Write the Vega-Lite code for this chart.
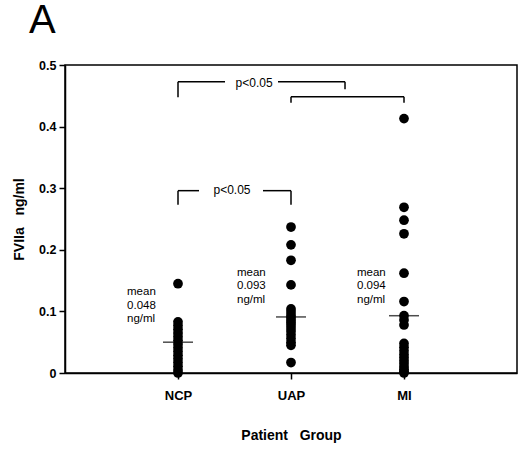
{
  "$schema": "https://vega.github.io/schema/vega-lite/v6.json",
  "autosize": "none",
  "padding": {"left": 65, "top": 65, "right": 3, "bottom": 78},
  "width": 452,
  "height": 308,
  "title": {
    "text": "A",
    "anchor": "start",
    "frame": "group",
    "baseline": "top",
    "fontSize": 40,
    "fontWeight": "normal",
    "font": "Liberation Sans",
    "color": "black",
    "dx": -36,
    "dy": -18,
    "offset": 0
  },
  "config": {
    "view": {"stroke": "black", "strokeWidth": 1.5},
    "axis": {
      "grid": false,
      "domainColor": "black",
      "domainWidth": 1.5,
      "tickColor": "black",
      "tickWidth": 1.5,
      "tickSize": 6,
      "labelColor": "black",
      "labelFont": "Liberation Sans",
      "labelFontWeight": "bold",
      "titleFont": "Liberation Sans",
      "titleFontWeight": "bold",
      "titleColor": "black"
    }
  },
  "datasets": {
    "points": [
      {"group": 1, "value": 0.145}, {"group": 1, "value": 0.083}, {"group": 1, "value": 0.077},
      {"group": 1, "value": 0.071}, {"group": 1, "value": 0.065}, {"group": 1, "value": 0.059},
      {"group": 1, "value": 0.053}, {"group": 1, "value": 0.047}, {"group": 1, "value": 0.041},
      {"group": 1, "value": 0.035}, {"group": 1, "value": 0.029}, {"group": 1, "value": 0.023},
      {"group": 1, "value": 0.017}, {"group": 1, "value": 0.011}, {"group": 1, "value": 0.005},
      {"group": 1, "value": 0.0},
      {"group": 2, "value": 0.237}, {"group": 2, "value": 0.208}, {"group": 2, "value": 0.183},
      {"group": 2, "value": 0.143}, {"group": 2, "value": 0.104}, {"group": 2, "value": 0.099},
      {"group": 2, "value": 0.094}, {"group": 2, "value": 0.09}, {"group": 2, "value": 0.086},
      {"group": 2, "value": 0.082}, {"group": 2, "value": 0.078}, {"group": 2, "value": 0.073},
      {"group": 2, "value": 0.068}, {"group": 2, "value": 0.062}, {"group": 2, "value": 0.056},
      {"group": 2, "value": 0.05}, {"group": 2, "value": 0.045}, {"group": 2, "value": 0.017},
      {"group": 3, "value": 0.413}, {"group": 3, "value": 0.269}, {"group": 3, "value": 0.248},
      {"group": 3, "value": 0.226}, {"group": 3, "value": 0.162}, {"group": 3, "value": 0.116},
      {"group": 3, "value": 0.093}, {"group": 3, "value": 0.086}, {"group": 3, "value": 0.078},
      {"group": 3, "value": 0.048}, {"group": 3, "value": 0.042}, {"group": 3, "value": 0.036},
      {"group": 3, "value": 0.03}, {"group": 3, "value": 0.025}, {"group": 3, "value": 0.02},
      {"group": 3, "value": 0.015}, {"group": 3, "value": 0.01}, {"group": 3, "value": 0.006},
      {"group": 3, "value": 0.003}, {"group": 3, "value": 0.0}
    ],
    "means": [
      {"group": 1, "mean": 0.05, "label": "mean\n0.048\nng/ml", "labelX": 0.549, "labelY": 0.1266},
      {"group": 2, "mean": 0.091, "label": "mean\n0.093\nng/ml", "labelX": 1.522, "labelY": 0.1575},
      {"group": 3, "mean": 0.093, "label": "mean\n0.094\nng/ml", "labelX": 2.584, "labelY": 0.1575}
    ],
    "brackets": [
      {"x": 1, "x2": 1, "y": 0.4476, "y2": 0.473},
      {"x": 1, "x2": 1.416, "y": 0.473, "y2": 0.473},
      {"x": 1.885, "x2": 2.478, "y": 0.473, "y2": 0.473},
      {"x": 2.478, "x2": 2.478, "y": 0.4606, "y2": 0.473},
      {"x": 2, "x2": 3, "y": 0.4485, "y2": 0.4485},
      {"x": 2, "x2": 2, "y": 0.4388, "y2": 0.4485},
      {"x": 3, "x2": 3, "y": 0.4388, "y2": 0.4485},
      {"x": 1, "x2": 1.186, "y": 0.296, "y2": 0.296},
      {"x": 1.752, "x2": 2, "y": 0.296, "y2": 0.296},
      {"x": 1, "x2": 1, "y": 0.273, "y2": 0.296},
      {"x": 2, "x2": 2, "y": 0.273, "y2": 0.296}
    ],
    "pvalues": [
      {"x": 1.673, "y": 0.471, "text": "p<0.05"},
      {"x": 1.478, "y": 0.297, "text": "p<0.05"}
    ]
  },
  "layer": [
    {
      "data": {"name": "points"},
      "mark": {"type": "circle", "size": 95, "color": "black", "opacity": 1},
      "encoding": {
        "x": {
          "field": "group",
          "type": "quantitative",
          "scale": {"domain": [0, 4]},
          "axis": {
            "values": [1, 2, 3],
            "labelExpr": "datum.value == 1 ? 'NCP' : datum.value == 2 ? 'UAP' : 'MI'",
            "labelFontSize": 13,
            "labelPadding": 10,
            "title": "Patient\u00a0\u00a0\u00a0Group",
            "titleFontSize": 14,
            "titlePadding": 26
          }
        },
        "y": {
          "field": "value",
          "type": "quantitative",
          "scale": {"domain": [0, 0.5]},
          "axis": {
            "values": [0, 0.1, 0.2, 0.3, 0.4, 0.5],
            "labelExpr": "datum.value == 0 ? '0' : format(datum.value, '.1f')",
            "labelFontSize": 12.5,
            "labelPadding": 3,
            "title": "FVIIa\u00a0\u00a0\u00a0ng/ml",
            "titleFontSize": 14,
            "titlePadding": 12
          }
        }
      }
    },
    {
      "data": {"name": "means"},
      "mark": {"type": "tick", "orient": "horizontal", "size": 30, "thickness": 1.5, "color": "black"},
      "encoding": {
        "x": {"field": "group", "type": "quantitative"},
        "y": {"field": "mean", "type": "quantitative"}
      }
    },
    {
      "data": {"name": "means"},
      "mark": {"type": "text", "align": "left", "baseline": "alphabetic", "fontSize": 11.5, "font": "Liberation Sans", "lineBreak": "\n", "lineHeight": 13.5, "color": "black"},
      "encoding": {
        "x": {"field": "labelX", "type": "quantitative"},
        "y": {"field": "labelY", "type": "quantitative"},
        "text": {"field": "label"}
      }
    },
    {
      "data": {"name": "brackets"},
      "mark": {"type": "rule", "color": "black", "strokeWidth": 1.5},
      "encoding": {
        "x": {"field": "x", "type": "quantitative"},
        "x2": {"field": "x2"},
        "y": {"field": "y", "type": "quantitative"},
        "y2": {"field": "y2"}
      }
    },
    {
      "data": {"name": "pvalues"},
      "mark": {"type": "text", "align": "center", "baseline": "middle", "fontSize": 12, "font": "Liberation Sans", "color": "black"},
      "encoding": {
        "x": {"field": "x", "type": "quantitative"},
        "y": {"field": "y", "type": "quantitative"},
        "text": {"field": "text"}
      }
    }
  ]
}
